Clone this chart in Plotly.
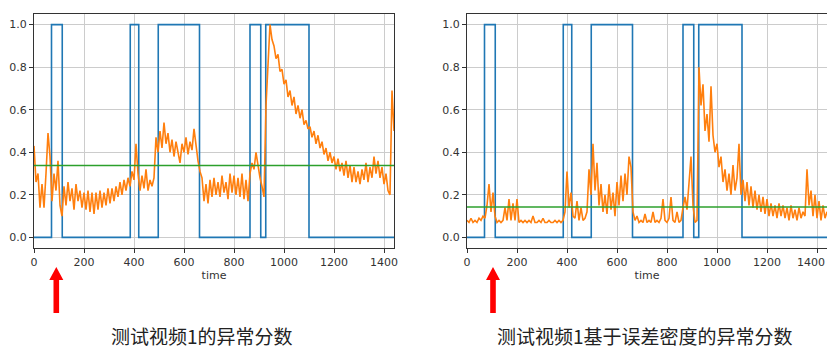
import plotly.graph_objects as go

# ---------------- data ----------------
step_times = [0, 70, 113, 385, 419, 497, 662, 864, 907, 927, 1100, 1440]
step_labels = [0, 1, 0, 1, 0, 1, 0, 1, 0, 1, 0, 0]

sample_times = list(range(0, 1441, 8))

score_left = [
    0.43, 0.26, 0.30, 0.14, 0.25, 0.14, 0.30, 0.49, 0.38, 0.17,
    0.30, 0.22, 0.36, 0.15, 0.10, 0.24, 0.15, 0.26, 0.17, 0.23,
    0.13, 0.25, 0.17, 0.22, 0.14, 0.21, 0.13, 0.22, 0.12, 0.21,
    0.11, 0.21, 0.13, 0.22, 0.14, 0.21, 0.15, 0.23, 0.16, 0.23,
    0.17, 0.24, 0.19, 0.26, 0.20, 0.27, 0.22, 0.28, 0.24, 0.31,
    0.27, 0.44, 0.30, 0.22, 0.29, 0.23, 0.32, 0.22, 0.27, 0.24,
    0.28, 0.47, 0.40, 0.50, 0.42, 0.54, 0.44, 0.49, 0.40, 0.46,
    0.38, 0.45, 0.40, 0.35, 0.44, 0.40, 0.47, 0.39, 0.45, 0.41,
    0.51, 0.42, 0.36, 0.31, 0.28, 0.17, 0.25, 0.16, 0.27, 0.19,
    0.28, 0.20, 0.26, 0.19, 0.29, 0.21, 0.26, 0.18, 0.30, 0.21,
    0.29, 0.20, 0.28, 0.19, 0.30, 0.18, 0.27, 0.17, 0.30, 0.35,
    0.32, 0.40, 0.33, 0.28, 0.24, 0.19, 0.62, 0.85, 1.00, 0.93,
    0.90, 0.84, 0.86, 0.78, 0.79, 0.72, 0.74, 0.66, 0.69, 0.62,
    0.66, 0.58, 0.62, 0.56, 0.60, 0.53, 0.55, 0.51, 0.52, 0.47,
    0.50, 0.44, 0.48, 0.42, 0.45, 0.39, 0.42, 0.36, 0.40, 0.35,
    0.38, 0.32, 0.37, 0.31, 0.35, 0.29, 0.36, 0.28, 0.34, 0.26,
    0.33, 0.26, 0.31, 0.25, 0.32, 0.27, 0.35, 0.26, 0.33, 0.28,
    0.38, 0.30, 0.36, 0.28, 0.33, 0.25, 0.30, 0.22, 0.20, 0.69,
    0.50,
]

score_right = [
    0.08, 0.07, 0.09, 0.07, 0.08, 0.07, 0.09, 0.08, 0.10, 0.09,
    0.15, 0.25, 0.12, 0.21, 0.10, 0.07, 0.08, 0.07, 0.08, 0.14,
    0.08, 0.18, 0.08, 0.16, 0.08, 0.18, 0.07, 0.08, 0.07, 0.08,
    0.07, 0.08, 0.07, 0.10, 0.07, 0.07, 0.08, 0.07, 0.09, 0.07,
    0.07, 0.08, 0.07, 0.07, 0.08, 0.07, 0.08, 0.07, 0.08, 0.12,
    0.31, 0.14, 0.21, 0.10, 0.09, 0.17, 0.08, 0.14, 0.08, 0.09,
    0.12, 0.32, 0.20, 0.44, 0.22, 0.35, 0.15, 0.25, 0.12, 0.20,
    0.11, 0.25, 0.13, 0.21, 0.10, 0.26, 0.15, 0.29, 0.17, 0.30,
    0.20, 0.38, 0.33, 0.12, 0.08, 0.10, 0.07, 0.08, 0.07, 0.11,
    0.07, 0.08, 0.07, 0.12, 0.07, 0.08, 0.07, 0.09, 0.18, 0.08,
    0.07, 0.09, 0.19, 0.08, 0.07, 0.12, 0.07, 0.08, 0.14, 0.19,
    0.13, 0.27, 0.38, 0.15, 0.07, 0.08, 0.80, 0.62, 0.72, 0.50,
    0.58, 0.45, 0.71, 0.48, 0.40, 0.44, 0.33, 0.38, 0.26, 0.32,
    0.22, 0.30, 0.20, 0.34, 0.22, 0.28, 0.44, 0.20, 0.27, 0.17,
    0.26, 0.15, 0.24, 0.14, 0.22, 0.13, 0.20, 0.12, 0.19, 0.11,
    0.18, 0.10, 0.16, 0.10, 0.15, 0.09, 0.16, 0.10, 0.15, 0.09,
    0.14, 0.08, 0.15, 0.09, 0.13, 0.08, 0.14, 0.09, 0.12, 0.10,
    0.32, 0.15, 0.22, 0.10, 0.20, 0.09, 0.17, 0.08, 0.15, 0.09,
    0.12,
]

threshold_left = 0.338
threshold_right = 0.143

x_ticks = [0, 200, 400, 600, 800, 1000, 1200, 1400]
y_ticks = [0.0, 0.2, 0.4, 0.6, 0.8, 1.0]
x_title = "time"
captions = ["测试视频1的异常分数", "测试视频1基于误差密度的异常分数"]

# ---------------- figure ----------------
W, H = 827, 351
BLUE, ORANGE, GREEN = "#1f77b4", "#ff7f0e", "#2ca02c"

fig = go.Figure()

panels = [
    ("x", "y", score_left, threshold_left),
    ("x2", "y2", score_right, threshold_right),
]
for xa, ya, score, thr in panels:
    fig.add_trace(go.Scatter(x=step_times, y=step_labels, mode="lines",
                             line=dict(color=BLUE, width=1.6, shape="hv"),
                             xaxis=xa, yaxis=ya, showlegend=False))
    fig.add_trace(go.Scatter(x=sample_times, y=score, mode="lines",
                             line=dict(color=ORANGE, width=1.6),
                             xaxis=xa, yaxis=ya, showlegend=False))
    fig.add_trace(go.Scatter(x=[sample_times[0], sample_times[-1]], y=[thr, thr],
                             mode="lines", line=dict(color=GREEN, width=1.4),
                             xaxis=xa, yaxis=ya, showlegend=False))

def px_x(p):
    return p / W

def px_y(p):
    return 1 - p / H

ydom = [px_y(248), px_y(14)]
tick_font = dict(family="DejaVu Sans", size=11, color="#333333")
axis_common = dict(showgrid=True, gridcolor="#cccccc", gridwidth=1,
                   showline=True, linecolor="#333333", linewidth=1, mirror=True,
                   ticks="outside", ticklen=4, tickcolor="#333333",
                   tickfont=tick_font, zeroline=False, automargin=False)

fig.update_layout(
    width=W, height=H,
    margin=dict(l=0, r=0, t=0, b=0, autoexpand=False),
    paper_bgcolor="white", plot_bgcolor="white",
    xaxis=dict(domain=[px_x(34), px_x(394)], range=[0, 1440], tickvals=x_ticks,
               anchor="y", title=dict(text=x_title, standoff=2, font=tick_font),
               **axis_common),
    yaxis=dict(domain=ydom, range=[-0.05, 1.05], tickvals=y_ticks, tickformat=".1f",
               anchor="x", **axis_common),
    xaxis2=dict(domain=[px_x(467), 1.0], range=[0, 1440], tickvals=x_ticks,
                anchor="y2", title=dict(text=x_title, standoff=2, font=tick_font),
                **axis_common),
    yaxis2=dict(domain=ydom, range=[-0.05, 1.05], tickvals=y_ticks, tickformat=".1f",
                anchor="x2", **axis_common),
)

# the last tick label of the right panel sits at the page edge; plotly hides
# such labels, so place it as text kept just inside the page
fig.add_annotation(text=str(x_ticks[-1]), x=1.0, xref="paper",
                   y=px_y(254), yref="paper", yanchor="top", xanchor="right",
                   showarrow=False, font=tick_font)

# red arrows (decorations, paper coordinates)
def arrow_path(cx):
    pts = [(cx, 267), (cx + 7, 280), (cx + 2.8, 280), (cx + 2.8, 313),
           (cx - 2.8, 313), (cx - 2.8, 280), (cx - 7, 280)]
    return "M " + " L ".join(f"{px_x(a):.5f},{px_y(b):.5f}" for a, b in pts) + " Z"

for cx in (56.3, 493):
    fig.add_shape(type="path", path=arrow_path(cx), xref="paper", yref="paper",
                  fillcolor="#ff0000", line=dict(width=0))

for text, cx in zip(captions, (202, 645)):
    fig.add_annotation(text=text, x=px_x(cx), y=px_y(350.5), xref="paper", yref="paper",
                       showarrow=False, xanchor="center", yanchor="bottom",
                       font=dict(family="Noto Sans CJK SC", size=19, color="#222222"))

fig.write_html("out.html", config={"displayModeBar": False},
               post_script="document.body.style.margin='0';document.body.style.overflow='hidden';")
